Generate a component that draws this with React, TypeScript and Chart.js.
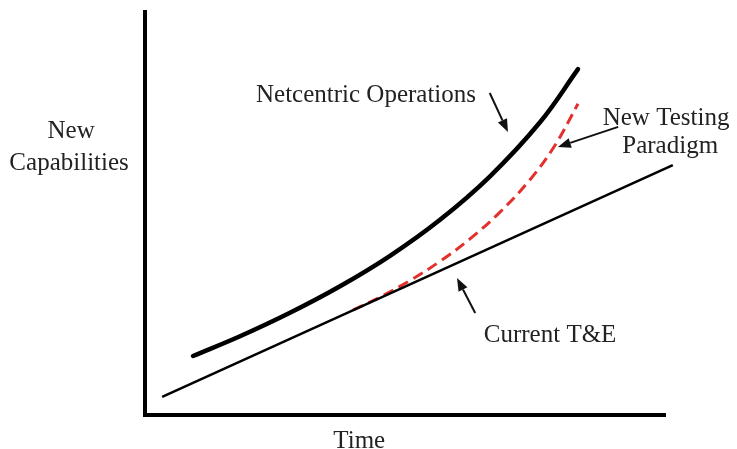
import React, { useEffect, useRef } from "react";
import { Chart, registerables } from "chart.js";

Chart.register(...registerables);

// Netcentric Operations (thick black curve)
const netcentricTime = [9.23, 18.27, 27.88, 37.5, 47.12, 56.73, 66.35, 75.96, 83.27];
const netcentricCap = [14.64, 19.53, 25.36, 31.94, 39.5, 48.44, 59.23, 72.63, 85.83];

// Current T&E (thin straight line)
const currentTime = [3.3, 101.5];
const currentCap = [4.5, 62];

// New Testing Paradigm (red dashed)
const paradigmTime = [40.0, 45.19, 50.96, 56.73, 62.5, 68.27, 74.04, 78.85, 83.27];
const paradigmCap = [26.05, 29.28, 33.37, 38.14, 43.72, 50.35, 58.39, 66.95, 77.22];

// annotation labels (text, x, y at baseline in data units)
const labelTexts = ["Netcentric Operations", "New Testing", "Paradigm", "Current T&E", "New", "Capabilities", "Time"];
const labelX = [42.5, 100.2, 101, 77.9, -14.2, -14.6, 41.2];
const labelY = [77.7, 72.0, 65.0, 18.1, 68.7, 60.8, -8.2];

// arrows: tail -> tip
const arrowTailX = [66.3, 91, 63.5];
const arrowTailY = [79.9, 71.5, 25.3];
const arrowTipX = [69.8, 79.4, 60];
const arrowTipY = [70.2, 66.5, 34];

const toPts = (xs: number[], ys: number[]) => xs.map((x, i) => ({ x, y: ys[i] }));

const annotPlugin = {
  id: "annot",
  afterDatasetsDraw(chart: any) {
    const { ctx, scales } = chart;
    const xs = scales.x;
    const ys = scales.y;
    ctx.save();
    ctx.strokeStyle = "#111";
    ctx.fillStyle = "#111";
    ctx.lineWidth = 2;
    for (let i = 0; i < arrowTailX.length; i++) {
      const x0 = xs.getPixelForValue(arrowTailX[i]);
      const y0 = ys.getPixelForValue(arrowTailY[i]);
      const x1 = xs.getPixelForValue(arrowTipX[i]);
      const y1 = ys.getPixelForValue(arrowTipY[i]);
      const ang = Math.atan2(y1 - y0, x1 - x0);
      const hl = 13;
      const hw = 5;
      const bx = x1 - hl * Math.cos(ang);
      const by = y1 - hl * Math.sin(ang);
      ctx.beginPath();
      ctx.moveTo(x0, y0);
      ctx.lineTo(bx, by);
      ctx.stroke();
      ctx.beginPath();
      ctx.moveTo(x1, y1);
      ctx.lineTo(bx + hw * Math.sin(ang), by - hw * Math.cos(ang));
      ctx.lineTo(bx - hw * Math.sin(ang), by + hw * Math.cos(ang));
      ctx.closePath();
      ctx.fill();
    }
    ctx.fillStyle = "#222";
    ctx.font = "25px 'Liberation Serif'";
    ctx.textAlign = "center";
    ctx.textBaseline = "alphabetic";
    for (let i = 0; i < labelTexts.length; i++) {
      ctx.fillText(labelTexts[i], xs.getPixelForValue(labelX[i]), ys.getPixelForValue(labelY[i]));
    }
    ctx.restore();
  },
};

export default function App() {
  const ref = useRef<HTMLCanvasElement>(null);
  useEffect(() => {
    if (!ref.current) return;
    const chart = new Chart(ref.current, {
      type: "scatter",
      data: {
        datasets: [
          {
            label: "Current T&E",
            data: toPts(currentTime, currentCap),
            showLine: true,
            borderColor: "#000",
            borderWidth: 2.5,
            pointRadius: 0,
            clip: false,
          } as any,
          {
            label: "New Testing Paradigm",
            data: toPts(paradigmTime, paradigmCap),
            showLine: true,
            borderColor: "#e3302d",
            borderWidth: 3,
            borderDash: [11, 6],
            pointRadius: 0,
            tension: 0.4,
            clip: false,
          },
          {
            label: "Netcentric Operations",
            data: toPts(netcentricTime, netcentricCap),
            showLine: true,
            borderColor: "#000",
            borderWidth: 4.5,
            borderCapStyle: "round",
            pointRadius: 0,
            tension: 0.4,
            clip: false,
          },
        ],
      },
      options: {
        responsive: false,
        animation: false,
        devicePixelRatio: 1,
        layout: { padding: { left: 145, top: 12, right: 72, bottom: 34 } },
        plugins: { legend: { display: false }, tooltip: { enabled: false } },
        scales: {
          x: {
            type: "linear",
            min: 0,
            max: 100,
            grid: { display: false, drawTicks: false },
            ticks: { display: false },
            border: { display: true, color: "#000", width: 4 },
          },
          y: {
            type: "linear",
            min: 0,
            max: 100,
            grid: { display: false, drawTicks: false },
            ticks: { display: false },
            border: { display: true, color: "#000", width: 4 },
          },
        },
      },
      plugins: [annotPlugin],
    });
    return () => chart.destroy();
  }, []);
  return (
    <div style={{ position: "fixed", left: 0, top: 0, width: 737, height: 449, background: "#fff" }}>
      <canvas ref={ref} width={737} height={449} style={{ display: "block" }} />
    </div>
  );
}
